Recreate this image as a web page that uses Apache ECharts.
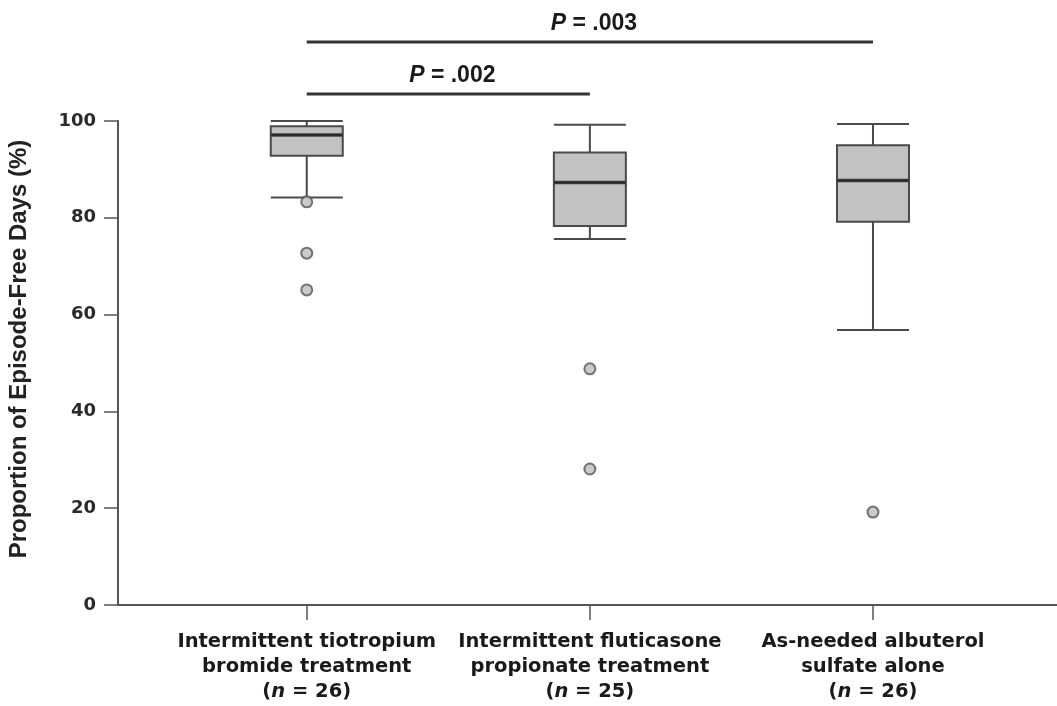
<!DOCTYPE html>
<html>
<head>
<meta charset="utf-8">
<script src="https://cdn.jsdelivr.net/npm/echarts@6/dist/echarts.min.js"></script>
<style>html,body{margin:0;padding:0;background:#fff}#c{width:1057px;height:706px}</style>
</head>
<body>
<div id="c"></div>
<script>
// ---- data ----
const categories = ['Intermittent tiotropium|bromide treatment', 'Intermittent fluticasone|propionate treatment', 'As-needed albuterol|sulfate alone'];
const groupN = [26, 25, 26];
const whiskerLow = [84.2, 75.6, 56.8];
const quartile1 = [92.8, 78.3, 79.2];
const medians = [97.1, 87.3, 87.7];
const quartile3 = [98.9, 93.5, 95.0];
const whiskerHigh = [100, 99.2, 99.4];
const outlierGroup = [1, 1, 1, 2, 2, 3];
const outlierValues = [83.3, 72.7, 65.1, 48.8, 28.1, 19.2];
const yTicks = [0, 20, 40, 60, 80, 100];
const comparisons = [[1, 2], [1, 3]];
const pLabels = ['.002', '.003'];

const groupPos = categories.map((c, i) => i + 1);
const boxData = groupPos.map((x, i) => [x, whiskerLow[i], quartile1[i], medians[i], quartile3[i], whiskerHigh[i]]);
const medianData = groupPos.map((x, i) => [x, medians[i]]);
const outlierData = outlierGroup.map((g, i) => [g, outlierValues[i]]);

const labelFont = "'DejaVu Sans',Verdana,sans-serif";
const chart = echarts.init(document.getElementById('c'));
const axisColor = '#555';
chart.setOption({
  animation: false,
  backgroundColor: '#fff',
  grid: { left: 118, right: 0, top: 121, bottom: 101, containLabel: false },
  xAxis: {
    type: 'value', min: 0.3333, max: 3.65,
    splitLine: { show: false },
    axisLine: { show: true, lineStyle: { color: axisColor, width: 2 } },
    axisTick: { show: true, length: 15, customValues: groupPos, lineStyle: { color: axisColor, width: 1.5 } },
    axisLabel: {
      customValues: groupPos, margin: 24, interval: 0,
      formatter: function (v) {
        const i = Math.round(v) - 1;
        const parts = categories[i].split('|');
        return '{a|' + parts[0] + '}\n{a|' + parts[1] + '}\n{a|(}{i|n}{a| = ' + groupN[i] + ')}';
      },
      rich: {
        a: { fontFamily: labelFont, fontSize: 19.5, fontWeight: 'bold', color: '#1a1a1a', lineHeight: 25, align: 'center' },
        i: { fontFamily: labelFont, fontSize: 19.5, fontWeight: 'bold', fontStyle: 'italic', color: '#1a1a1a', lineHeight: 25 }
      }
    }
  },
  yAxis: {
    type: 'value', min: 0, max: 100, interval: 20,
    splitLine: { show: false },
    axisLine: { show: true, lineStyle: { color: axisColor, width: 2 } },
    axisTick: { show: true, length: 14, lineStyle: { color: axisColor, width: 1.5 } },
    axisLabel: { fontFamily: labelFont, fontWeight: 'bold', fontSize: 18, color: '#2a2a2a', margin: 22,
      formatter: v => String(yTicks[yTicks.indexOf(v)]) }
  },
  series: [
    {
      type: 'boxplot', data: boxData, boxWidth: [72, 72],
      itemStyle: { color: '#c2c2c2', borderColor: '#4a4a4a', borderWidth: 2 },
      z: 2
    },
    {
      type: 'scatter', data: medianData, symbol: 'rect', symbolSize: [71, 3.5],
      itemStyle: { color: '#222' }, z: 3
    },
    {
      type: 'scatter', data: outlierData, symbol: 'circle', symbolSize: 11,
      itemStyle: { color: '#bdbdbd', borderColor: '#555', borderWidth: 2 }, z: 3
    }
  ]
});

// significance bars placed via the chart's own scales
const barLevels = [105.6, 116.3];
const graphics = [];
comparisons.forEach((pair, k) => {
  const p1 = chart.convertToPixel({ xAxisIndex: 0, yAxisIndex: 0 }, [pair[0], barLevels[k]]);
  const p2 = chart.convertToPixel({ xAxisIndex: 0, yAxisIndex: 0 }, [pair[1], barLevels[k]]);
  graphics.push({ type: 'line', shape: { x1: p1[0], y1: p1[1], x2: p2[0], y2: p2[1] }, style: { stroke: '#333', lineWidth: 3 } });
  graphics.push({
    type: 'text', x: (p1[0] + p2[0]) / 2 + 4, y: p1[1] - 7,
    style: {
      text: '{p|P}{t| = ' + pLabels[k] + '}', align: 'center', verticalAlign: 'bottom',
      rich: {
        p: { fontFamily: "'Liberation Sans',Arial,sans-serif", fontSize: 23, fontWeight: 'bold', fontStyle: 'italic', fill: '#1a1a1a' },
        t: { fontFamily: "'Liberation Sans',Arial,sans-serif", fontSize: 23, fontWeight: 'bold', fill: '#1a1a1a' }
      }
    }
  });
});
graphics.push({
  type: 'text', x: 19, y: 349, rotation: Math.PI / 2,
  style: { text: 'Proportion of Episode-Free Days (%)', align: 'center', verticalAlign: 'middle',
    fontFamily: "'Liberation Sans',Arial,sans-serif", fontWeight: 'bold', fontSize: 24, fill: '#222' }
});
chart.setOption({ graphic: graphics });
</script>
</body>
</html>
